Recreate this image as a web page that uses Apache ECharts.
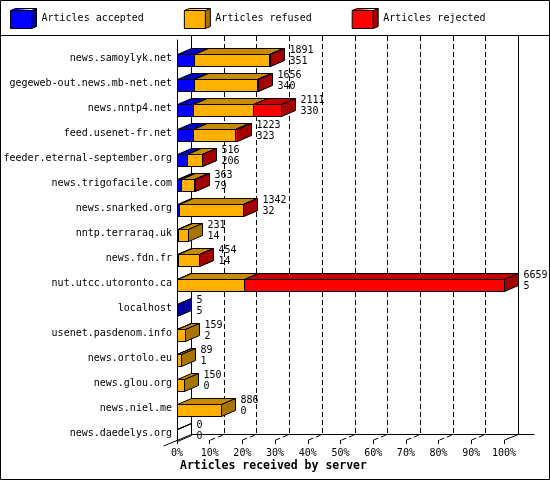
<!DOCTYPE html>
<html>
<head>
<meta charset="utf-8">
<script src="https://cdn.jsdelivr.net/npm/echarts@6/dist/echarts.min.js"></script>
<style>
  html, body { margin: 0; padding: 0; background: #fff; }
  #main { width: 550px; height: 480px; }
</style>
</head>
<body>
<div id="main"></div>
<script>
// servers, top to bottom
var SERVERS = [
  'news.samoylyk.net', 'gegeweb-out.news.mb-net.net', 'news.nntp4.net',
  'feed.usenet-fr.net', 'feeder.eternal-september.org', 'news.trigofacile.com',
  'news.snarked.org', 'nntp.terraraq.uk', 'news.fdn.fr', 'nut.utcc.utoronto.ca',
  'localhost', 'usenet.pasdenom.info', 'news.ortolo.eu', 'news.glou.org',
  'news.niel.me', 'news.daedelys.org'
];
var RECEIVED = [1891, 1656, 2111, 1223, 516, 363, 1342, 231, 454, 6659, 5, 159, 89, 150, 886, 0];
var ACCEPTED = [351, 340, 330, 323, 206, 79, 32, 14, 14, 5, 5, 2, 1, 0, 0, 0];
var REFUSED  = [1522, 1293, 1220, 850, 298, 261, 1302, 217, 432, 1358, 0, 157, 88, 150, 886, 0];
var REJECTED = [18, 23, 561, 50, 12, 23, 8, 0, 8, 5296, 0, 0, 0, 0, 0, 0];

var FONT = '"DejaVu Sans Mono", monospace';
var DX = 14, DY = -6, BAR_H = 12;

var COLOR = {
  accepted: { front: '#0000ff', top: '#0000c4', side: '#0000a0' },
  refused:  { front: '#ffb000', top: '#c88a00', side: '#a87400' },
  rejected: { front: '#ff0000', top: '#c40000', side: '#a40000' }
};

var myChart = echarts.init(document.getElementById('main'));

var maxReceived = Math.max.apply(null, RECEIVED);
function pct(v) { return v / maxReceived * 100; }

var accData = [], refData = [], rejData = [], labelData = [];
SERVERS.forEach(function (name, i) {
  var a = ACCEPTED[i], r = REFUSED[i], j = REJECTED[i];
  accData.push([pct(0), pct(a), i, RECEIVED[i]]);
  refData.push([pct(a), pct(a + r), i, RECEIVED[i]]);
  rejData.push([pct(a + r), pct(a + r + j), i, RECEIVED[i]]);
  labelData.push([pct(a + r + j), i, RECEIVED[i], a]);
});

function px(v) { return Math.round(v) + 0.5; }

/**
 * one 3d box: front, top and right side
 */
function boxRenderer(col, drawEmpty) {
  return function (params, api) {
    var s = api.value(0), e = api.value(1), row = api.value(2);
    var empty = api.value(3) === 0;
    if (e <= s && !(drawEmpty && empty)) return;
    var pa = api.coord([s, row]), pb = api.coord([e, row]);
    var xa = px(pa[0]), xb = Math.max(xa, px(pb[0]));
    var yT = px(pa[1]) + 1, yB = yT + BAR_H;
    var fill = function (c) { return empty ? 'none' : c; };
    var line = { stroke: '#000', lineWidth: 1 };
    return {
      type: 'group',
      children: [
        { type: 'rect', shape: { x: xa, y: yT, width: xb - xa, height: BAR_H },
          style: echarts.util.extend({ fill: fill(col.front) }, line) },
        { type: 'polygon', shape: { points: [[xa, yT], [xa + DX, yT + DY], [xb + DX, yT + DY], [xb, yT]] },
          style: echarts.util.extend({ fill: fill(col.top) }, line) },
        { type: 'polygon', shape: { points: [[xb, yT], [xb + DX, yT + DY], [xb + DX, yB + DY], [xb, yB]] },
          style: echarts.util.extend({ fill: fill(col.side) }, line) }
      ]
    };
  };
}

/**
 * back walls, floor and dashed grid
 */
function frameRenderer(params, api) {
  var n = SERVERS.length;
  var p0 = api.coord([0, 0]), pl = api.coord([100, n - 1]);
  var band = api.size([0, 1])[1];
  var top = p0[1] - band / 2 - 4, bottom = pl[1] + band / 2;
  var back = px(bottom + DY);
  var kids = [];
  function seg(x1, y1, x2, y2, dash) {
    kids.push({ type: 'line', shape: { x1: x1, y1: y1, x2: x2, y2: y2 },
      style: { stroke: '#000', lineWidth: 1, lineDash: dash ? [5, 3] : null } });
  }
  for (var v = 0; v <= 100; v += 10) {
    var x = px(api.coord([v, 0])[0]);
    var dash = v !== 0 && v !== 100;
    seg(x + DX, top, x + DX, back, dash);
    if (v === 0) seg(x - DX, bottom - DY, x + DX, back, false);
    else seg(x, bottom, x + DX, back, dash);
  }
  seg(px(p0[0]) + DX, back, px(pl[0]) + DX + 16, back, false);
  return { type: 'group', children: kids };
}

function labelRenderer(params, api) {
  var p = api.coord([api.value(0), api.value(1)]);
  var yT = px(p[1]) + 1;
  return {
    type: 'text',
    style: {
      text: api.value(2) + '\n' + api.value(3),
      x: px(p[0]) + DX + 5, y: yT - 9.5,
      fill: '#000', font: '10px ' + FONT,
      lineHeight: 11, align: 'left', verticalAlign: 'top'
    }
  };
}

var CUBE = 'path://M0,2 L5,0 L26,0 L26,18 L21,20 L0,20 Z M0,2 L21,2 L26,0 M21,2 L21,20';
function cubeColor(col) {
  return new echarts.graphic.LinearGradient(0, 0, 1, 0, [
    { offset: 0, color: col.front }, { offset: 0.8077, color: col.front },
    { offset: 0.8077, color: col.side }, { offset: 1, color: col.side }
  ]);
}

myChart.setOption({
  animation: false,
  backgroundColor: '#fff',
  title: {
    text: 'Articles received by server',
    left: 180, top: 460, padding: 0,
    textStyle: { fontFamily: FONT, fontSize: 11.5, fontWeight: 'bold', color: '#000' }
  },
  legend: {
    left: 10, top: 8, padding: 0, itemWidth: 26, itemHeight: 20, itemGap: 40, itemTextGap: 6,
    icon: CUBE, selectedMode: false,
    textStyle: { fontFamily: FONT, fontSize: 10, color: '#000', width: 102 },
    data: [
      { name: 'Articles accepted', itemStyle: { color: cubeColor(COLOR.accepted), borderColor: '#000', borderWidth: 1 } },
      { name: 'Articles refused', itemStyle: { color: cubeColor(COLOR.refused), borderColor: '#000', borderWidth: 1 } },
      { name: 'Articles rejected', itemStyle: { color: cubeColor(COLOR.rejected), borderColor: '#000', borderWidth: 1 } }
    ]
  },
  graphic: [
    { type: 'rect', shape: { x: 0.5, y: 0.5, width: 549, height: 479 }, style: { fill: 'none', stroke: '#000' }, z: 100 },
    { type: 'line', shape: { x1: 0, y1: 35.5, x2: 550, y2: 35.5 }, style: { stroke: '#000' }, z: 100 }
  ],
  grid: { left: 177, right: 46, top: 40, bottom: 40 },
  xAxis: {
    type: 'value', min: 0, max: 100, interval: 10,
    axisLine: { show: false },
    axisTick: { show: true, length: 4, lineStyle: { color: '#000' } },
    splitLine: { show: false },
    axisLabel: { formatter: '{value}%', fontFamily: FONT, fontSize: 10, color: '#000', margin: 8 }
  },
  yAxis: {
    type: 'category', inverse: true, data: SERVERS,
    axisLine: { show: true, lineStyle: { color: '#000' } },
    axisTick: { show: false },
    axisLabel: { fontFamily: FONT, fontSize: 10, color: '#000', margin: 5, verticalAlign: 'top', lineHeight: 12 }
  },
  series: [
    { type: 'custom', name: 'frame', silent: true, z: 1, data: [[0]], renderItem: frameRenderer },
    { type: 'custom', name: 'Articles accepted', z: 2, data: accData,
      itemStyle: { color: COLOR.accepted.front }, renderItem: boxRenderer(COLOR.accepted, true) },
    { type: 'custom', name: 'Articles refused', z: 2, data: refData,
      itemStyle: { color: COLOR.refused.front }, renderItem: boxRenderer(COLOR.refused, false) },
    { type: 'custom', name: 'Articles rejected', z: 2, data: rejData,
      itemStyle: { color: COLOR.rejected.front }, renderItem: boxRenderer(COLOR.rejected, false) },
    { type: 'custom', name: 'labels', silent: true, z: 3, data: labelData, renderItem: labelRenderer }
  ]
});

window.onresize = myChart.resize;
</script>
</body>
</html>
